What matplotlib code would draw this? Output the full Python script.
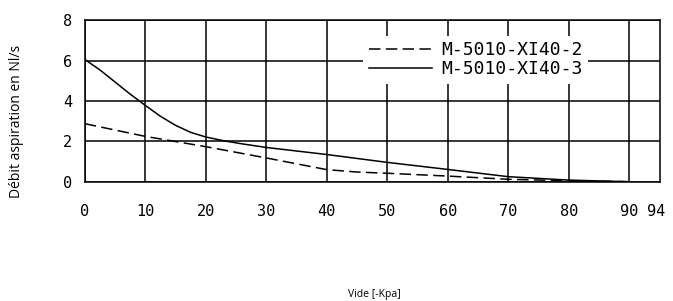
import matplotlib
matplotlib.use("Agg")
import matplotlib.pyplot as plt
from matplotlib.ticker import FixedLocator

# Data
x_xi40_3 = [0, 2.5, 5, 7.5, 10, 12.5, 15, 17.5, 20, 23, 26, 30, 40, 50, 60, 70, 80, 90]
y_xi40_3 = [6.07, 5.55, 4.95, 4.35, 3.79, 3.25, 2.80, 2.45, 2.22, 2.03, 1.88, 1.70, 1.35, 0.96, 0.61, 0.25, 0.08, 0.0]
x_xi40_2 = [0, 10, 20, 30, 40, 45, 50, 60, 70, 80, 90]
y_xi40_2 = [2.88, 2.25, 1.74, 1.18, 0.60, 0.48, 0.42, 0.28, 0.12, 0.05, 0.0]

xticks = [0, 10, 20, 30, 40, 50, 60, 70, 80, 90]
xtick_labels = ["0", "10", "20", "30", "40", "50", "60", "70", "80", "90"]
extra_tick = [94.5]
extra_tick_label = ["94"]
yticks = [0, 2, 4, 6, 8]
ytick_labels = ["0", "2", "4", "6", "8"]
label_2 = "M-5010-XI40-2"
label_3 = "M-5010-XI40-3"

fig = plt.figure(figsize=(6.73, 3.01), dpi=100)
ax = fig.add_axes([0.1259, 0.3963, 0.8548, 0.5356])

ax.plot(x_xi40_2, y_xi40_2, color="black", lw=1.1, linestyle=(0, (7.5, 3.5)), label=label_2)
ax.plot(x_xi40_3, y_xi40_3, color="black", lw=1.1, label=label_3)

ax.set_xlim(0, 95.1)
ax.set_ylim(0, 8)
ax.xaxis.set_major_locator(FixedLocator(xticks))
ax.set_xticklabels(xtick_labels)
ax.xaxis.set_minor_locator(FixedLocator(extra_tick))
ax.set_xticklabels(extra_tick_label, minor=True)
ax.set_yticks(yticks)
ax.set_yticklabels(ytick_labels)

for lab in ax.get_xticklabels() + ax.get_xticklabels(minor=True) + ax.get_yticklabels():
    lab.set_fontfamily("DejaVu Sans Mono")
    lab.set_fontsize(11)

ax.tick_params(axis="x", which="both", length=0, pad=16)
ax.tick_params(axis="y", length=0, pad=9)
ax.grid(True, which="major", color="black", lw=1.1)
for s in ax.spines.values():
    s.set_linewidth(1.1)
    s.set_color("black")

leg = ax.legend(loc="upper left", bbox_to_anchor=(0.484, 0.905),
                frameon=True, facecolor="white", edgecolor="white", framealpha=1,
                fancybox=False, prop=dict(family="DejaVu Sans Mono", size=13),
                handlelength=3.5, handletextpad=0.55, labelspacing=0.05,
                borderpad=0.3, borderaxespad=0)
leg.get_frame().set_linewidth(0)

fig.text(0.024, 0.595, "Débit aspiration en Nl/s", rotation=90, ha="center", va="center",
         fontsize=10, family="Open Sans")
fig.text(0.556, 0.022, "Vide [-Kpa]", ha="center", va="center", fontsize=7.5, family="Open Sans")

fig.savefig("out.png", dpi=100)
